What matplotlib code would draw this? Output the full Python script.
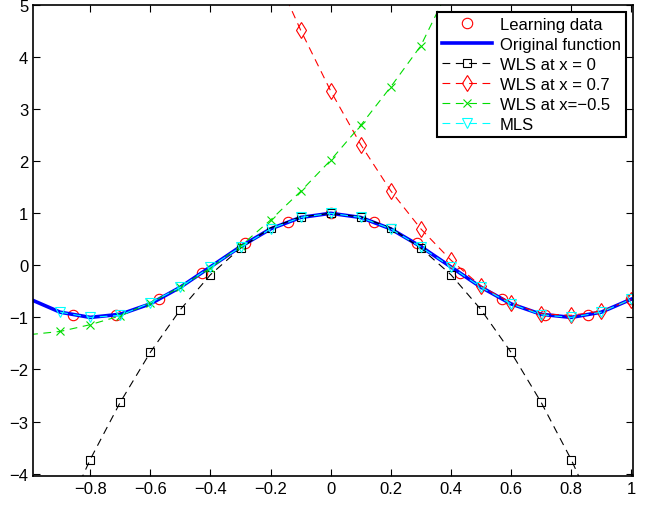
import matplotlib
matplotlib.use("Agg")
import matplotlib.pyplot as plt

plt.rcParams["font.family"] = ["Liberation Sans", "DejaVu Sans"]
plt.rcParams["axes.unicode_minus"] = True

# learning samples
x_learn = [-0.857, -0.714, -0.571, -0.429, -0.286, -0.143, 0.0,
           0.143, 0.286, 0.429, 0.571, 0.714, 0.857, 1.0]
y_learn = [-0.96, -0.96, -0.65, -0.14, 0.42, 0.84, 1.0,
           0.84, 0.42, -0.14, -0.65, -0.96, -0.96, -0.65]

# original function, read every 0.1
x_orig = [-1.0, -0.9, -0.8, -0.7, -0.6, -0.5, -0.4, -0.3, -0.2, -0.1, 0.0,
          0.1, 0.2, 0.3, 0.4, 0.5, 0.6, 0.7, 0.8, 0.9, 1.0]
y_orig = [-0.65, -0.90, -1.0, -0.94, -0.74, -0.42, -0.03, 0.36, 0.70, 0.92, 1.0,
          0.92, 0.70, 0.36, -0.03, -0.42, -0.74, -0.94, -1.0, -0.90, -0.65]

# WLS at x = 0
x_wls0 = x_orig
y_wls0 = [-6.0, -5.0, -3.73, -2.63, -1.67, -0.85, -0.18, 0.33, 0.72, 0.93, 1.0,
          0.93, 0.72, 0.33, -0.18, -0.85, -1.67, -2.63, -3.73, -5.0, -6.0]

# WLS at x = 0.7
x_wls07 = [-0.2, -0.1, 0.0, 0.1, 0.2, 0.3, 0.4, 0.5, 0.6, 0.7, 0.8, 0.9, 1.0]
y_wls07 = [5.8, 4.52, 3.35, 2.32, 1.43, 0.70, 0.10, -0.40, -0.72, -0.93, -0.96, -0.88, -0.66]

# WLS at x = -0.5
x_wlsm05 = [-1.0, -0.9, -0.8, -0.7, -0.6, -0.5, -0.4, -0.3, -0.2, -0.1, 0.0,
            0.1, 0.2, 0.3, 0.4]
y_wlsm05 = [-1.33, -1.27, -1.14, -0.97, -0.72, -0.42, -0.05, 0.37, 0.87, 1.42, 2.02,
            2.69, 3.43, 4.22, 5.4]

# MLS
x_mls = [-0.9, -0.8, -0.7, -0.6, -0.5, -0.4, -0.3, -0.2, -0.1, 0.0,
         0.1, 0.2, 0.3, 0.4, 0.5, 0.6, 0.7, 0.8, 0.9, 1.0]
y_mls = [-0.90, -1.0, -0.96, -0.72, -0.42, -0.03, 0.35, 0.70, 0.92, 1.0,
         0.92, 0.70, 0.35, -0.03, -0.42, -0.74, -0.95, -1.0, -0.90, -0.65]

xtick_vals = [-0.8, -0.6, -0.4, -0.2, 0, 0.2, 0.4, 0.6, 0.8, 1]
xtick_labels = ["\u22120.8", "\u22120.6", "\u22120.4", "\u22120.2", "0", "0.2", "0.4", "0.6", "0.8", "1"]
ytick_vals = [-4, -3, -2, -1, 0, 1, 2, 3, 4, 5]

fig = plt.figure(figsize=(6.49, 5.06), dpi=100)
ax = fig.add_axes([0.051, 0.057, 0.924, 0.931])

dash = (7, 5)
ax.plot(x_learn, y_learn, "o", color="red", mfc="none", ms=7.5, mew=0.8,
        label="Learning data")
ax.plot(x_orig, y_orig, "-", color="blue", lw=2.6, label="Original function")
ax.plot(x_wls0, y_wls0, "--", color="black", lw=0.8, dashes=dash,
        marker="s", mfc="none", ms=6, mew=0.8, label="WLS at x = 0")
ax.plot(x_wls07, y_wls07, "--", color="red", lw=0.8, dashes=dash,
        marker="d", mfc="none", ms=8, mew=0.8, label="WLS at x = 0.7")
ax.plot(x_wlsm05, y_wlsm05, "--", color="#00dd00", lw=0.8, dashes=dash,
        marker="x", ms=6, mew=0.8, markevery=slice(1, None),
        label="WLS at x=\u22120.5")
ax.plot(x_mls, y_mls, "--", color="cyan", lw=0.8, dashes=dash,
        marker="v", mfc="none", ms=7.5, mew=0.8, label="MLS")

ax.set_xlim(-0.99, 1.005)
ax.set_ylim(-4.05, 5.0)
ax.set_xticks(xtick_vals)
ax.set_xticklabels(xtick_labels)
ax.set_yticks(ytick_vals)
ax.tick_params(direction="in", top=True, right=True, length=5, width=0.8,
               labelsize=12, colors="black")
for s in ax.spines.values():
    s.set_linewidth(1.2)

leg = ax.legend(loc="upper right", fontsize=12, frameon=True, fancybox=False,
                framealpha=1, edgecolor="black", borderaxespad=0.4,
                handlelength=3.0, labelspacing=0.3, borderpad=0.3,
                handletextpad=0.5)
leg.get_frame().set_linewidth(1.5)

fig.savefig("out.png", dpi=100)
